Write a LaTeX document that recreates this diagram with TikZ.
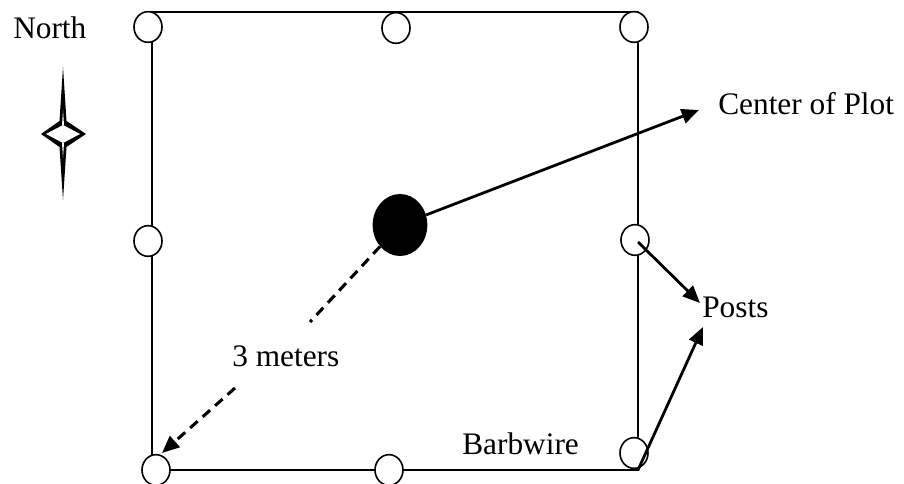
\documentclass[tikz,border=0pt]{standalone}
\usepackage{fontspec}
\setmainfont{Liberation Serif}
\usetikzlibrary{shapes.geometric,arrows.meta}
\begin{document}
\begin{tikzpicture}[x=0.75pt,y=-0.75pt,
  post/.style={ellipse,draw,fill=white,line width=1.2pt,minimum width=21pt,minimum height=23pt,inner sep=0pt},
  lbl/.style={font=\fontsize{23.5}{28}\selectfont,inner sep=0pt,anchor=base west},
  wire/.style={line width=1.2pt},
  arr/.style={line width=2.1pt,-{Triangle[length=13pt,width=11pt]}},
  dasharr/.style={line width=2.3pt,dash pattern=on 7.5pt off 5pt},
]
\useasboundingbox (0,0) rectangle (904,484);
% barbwire square
\coordinate (nw) at (152,12);
\coordinate (ne) at (638,12);
\coordinate (se) at (638,470);
\coordinate (sw) at (152,470);
\draw[wire] (nw) -- (ne) -- (se) -- (sw) -- cycle;
% posts
\node[post] (p1) at (148,27) {};
\node[post] (p2) at (396,28) {};
\node[post] (p3) at (634,27) {};
\node[post] (p4) at (148,241) {};
\node[post] (p5) at (635,240) {};
\node[post] (p6) at (156,470) {};
\node[post] (p7) at (389,470) {};
\node[post] (p8) at (634,453) {};
% center of plot
\node[ellipse,fill=black,minimum width=41pt,minimum height=46.5pt,inner sep=0pt] (dot) at (400,225) {};
% labels
\node[lbl] (north) at (13,39) {North};
\node[lbl] (cop) at (718,115) {Center of Plot};
\node[lbl] (posts) at (702,318) {Posts};
\node[lbl] (meters) at (232,367) {3 meters};
\node[lbl] (barb) at (462,455) {Barbwire};
% north symbol
\fill[black] (63,67) -- (66.5,121) -- (86,134) -- (66.5,147) -- (63,200) -- (59.5,147) -- (41,134) -- (59.5,121) -- cycle;
\fill[white] (63,125) -- (80,134) -- (63,143) -- (46,134) -- cycle;
\fill[white] (63,110) -- (64,125) -- (62,125) -- cycle;
\fill[white] (63,158) -- (64,143) -- (62,143) -- cycle;
% arrows
\coordinate (copTip) at (699,110);
\draw[arr] (dot) -- (copTip);
\coordinate (postTip1) at (700,303);
\coordinate (postTip2) at (703,327);
\coordinate (p5c) at (638,242);
\draw[arr] (p5c) -- (postTip1);
\draw[arr] (se) -- (postTip2);
% dashed radius
\coordinate (dEnd1) at (310,322);
\coordinate (dStart2) at (235,388);
\coordinate (dTip) at (162,453);
\draw[dasharr] (dot) -- (dEnd1);
\draw[dasharr,-{Triangle[length=13pt,width=11pt]}] (dStart2) -- (dTip);
\end{tikzpicture}
\end{document}
